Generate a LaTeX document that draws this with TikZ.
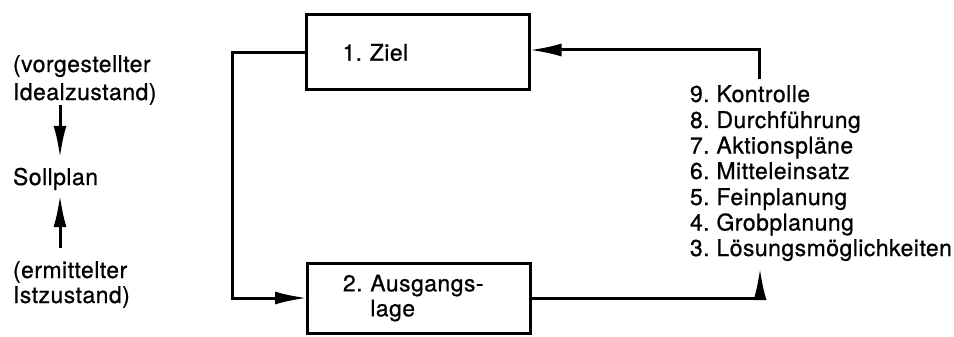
\documentclass[tikz,border=0pt]{standalone}
\usepackage{fontspec}
\setmainfont{TeX Gyre Heros}[FakeBold=0.7,LetterSpace=2]
\usetikzlibrary{arrows.meta}
\begin{document}
\frenchspacing
\begin{tikzpicture}[x=1pt,y=-1pt,
  every node/.style={inner sep=0pt, outer sep=0pt, font=\fontsize{23}{25}\selectfont},
  txt/.style={anchor=base west},
  box/.style={draw, line width=3pt, inner xsep=36pt, inner ysep=0pt, align=left},
  wire/.style={line width=3pt},
  arr/.style={wire, -{Latex[length=32pt,width=13pt]}}]
\useasboundingbox (0,0) rectangle (954,337);

% left column: origin of the target plan
\coordinate (axis) at (60,0);
\node[txt] (vorg1) at (13,72) {(vorgestellter};
\node[txt] (vorg2) at (13,100) {Idealzustand)};
\node[txt] (soll)  at (13,185) {Sollplan};
\node[txt] (erm1)  at (13,278) {(ermittelter};
\node[txt] (erm2)  at (13,303) {Istzustand)};
\draw[arr] (vorg2.south -| axis) -- ([yshift=10pt]soll.north -| axis);
\draw[arr] ([yshift=13pt]erm1.north -| axis) -- ([yshift=-5pt]soll.south -| axis);

% the two boxes
\node[box, text width=151pt, minimum height=75pt] (ziel) at (418,52.5) {1. Ziel};
\node[box, text width=151pt, minimum height=70pt] (lage) at (418.5,298)
  {\raisebox{3pt}{2. Ausgangs-}\\\hphantom{2. }\raisebox{3pt}{lage}};

% planning steps
\node[txt] (s9) at (690,102)   {9. Kontrolle};
\node[txt] (s8) at (690,128)   {8. Durchführung};
\node[txt] (s7) at (690,153.5) {7. Aktionspläne};
\node[txt] (s6) at (690,179)   {6. Mitteleinsatz};
\node[txt] (s5) at (690,205)   {5. Feinplanung};
\node[txt] (s4) at (690,230.5) {4. Grobplanung};
\node[txt] (s3) at (690,256)   {3. Lösungsmöglichkeiten};
\coordinate (stepsOut) at ([yshift=6pt]s9.north -| 759,0);
\coordinate (stepsIn)  at ([yshift=-7pt]s3.south -| 760,0);

% feedback loop
\draw[arr] (ziel.west) -- ++(-74,0) |- (lage.west);
\draw[arr] (lage.east) -| (stepsIn);
\draw[arr] (stepsOut) |- ([yshift=2.5pt]ziel.east);
\end{tikzpicture}
\end{document}
